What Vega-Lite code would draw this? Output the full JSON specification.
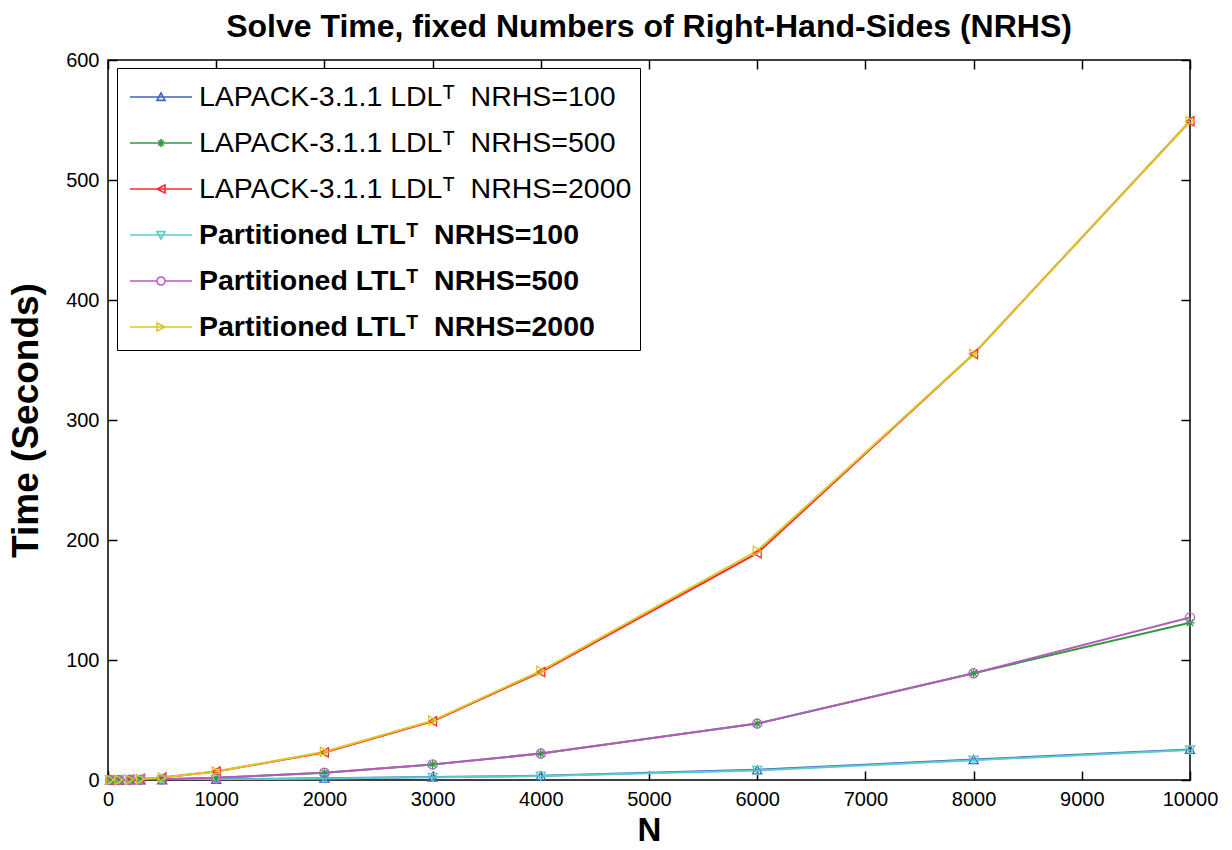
{
  "$schema": "https://vega.github.io/schema/vega-lite/v6.json",
  "autosize": "none",
  "width": 1082,
  "height": 720,
  "padding": {"left": 108, "top": 60, "right": 42, "bottom": 70},
  "background": "white",
  "title": {
    "text": "Solve Time, fixed Numbers of Right-Hand-Sides (NRHS)",
    "font": "Liberation Sans",
    "fontSize": 32,
    "fontWeight": "bold",
    "color": "black",
    "anchor": "middle",
    "offset": 6
  },
  "config": {
    "view": {"stroke": "black", "strokeWidth": 1.5},
    "axis": {
      "grid": false,
      "domain": false,
      "tickColor": "black",
      "tickWidth": 1.5,
      "labelFont": "Liberation Sans",
      "labelFontSize": 20,
      "labelColor": "black",
      "titleFont": "Liberation Sans",
      "titleFontSize": 34,
      "titleFontWeight": "bold",
      "titleColor": "black"
    }
  },
  "datasets": {
    "times": [
      {"N": 20, "series": "LAPACK-3.1.1 LDLᵀ\u00a0\u00a0NRHS=100", "time": 0},
      {"N": 100, "series": "LAPACK-3.1.1 LDLᵀ\u00a0\u00a0NRHS=100", "time": 0.01},
      {"N": 200, "series": "LAPACK-3.1.1 LDLᵀ\u00a0\u00a0NRHS=100", "time": 0.03},
      {"N": 300, "series": "LAPACK-3.1.1 LDLᵀ\u00a0\u00a0NRHS=100", "time": 0.06},
      {"N": 500, "series": "LAPACK-3.1.1 LDLᵀ\u00a0\u00a0NRHS=100", "time": 0.15},
      {"N": 1000, "series": "LAPACK-3.1.1 LDLᵀ\u00a0\u00a0NRHS=100", "time": 0.5},
      {"N": 2000, "series": "LAPACK-3.1.1 LDLᵀ\u00a0\u00a0NRHS=100", "time": 1.5},
      {"N": 3000, "series": "LAPACK-3.1.1 LDLᵀ\u00a0\u00a0NRHS=100", "time": 2.5},
      {"N": 4000, "series": "LAPACK-3.1.1 LDLᵀ\u00a0\u00a0NRHS=100", "time": 3.5},
      {"N": 6000, "series": "LAPACK-3.1.1 LDLᵀ\u00a0\u00a0NRHS=100", "time": 8.5},
      {"N": 8000, "series": "LAPACK-3.1.1 LDLᵀ\u00a0\u00a0NRHS=100", "time": 17},
      {"N": 10000, "series": "LAPACK-3.1.1 LDLᵀ\u00a0\u00a0NRHS=100", "time": 25.5},

      {"N": 20, "series": "LAPACK-3.1.1 LDLᵀ\u00a0\u00a0NRHS=500", "time": 0},
      {"N": 100, "series": "LAPACK-3.1.1 LDLᵀ\u00a0\u00a0NRHS=500", "time": 0.03},
      {"N": 200, "series": "LAPACK-3.1.1 LDLᵀ\u00a0\u00a0NRHS=500", "time": 0.1},
      {"N": 300, "series": "LAPACK-3.1.1 LDLᵀ\u00a0\u00a0NRHS=500", "time": 0.25},
      {"N": 500, "series": "LAPACK-3.1.1 LDLᵀ\u00a0\u00a0NRHS=500", "time": 0.6},
      {"N": 1000, "series": "LAPACK-3.1.1 LDLᵀ\u00a0\u00a0NRHS=500", "time": 1.8},
      {"N": 2000, "series": "LAPACK-3.1.1 LDLᵀ\u00a0\u00a0NRHS=500", "time": 6},
      {"N": 3000, "series": "LAPACK-3.1.1 LDLᵀ\u00a0\u00a0NRHS=500", "time": 13},
      {"N": 4000, "series": "LAPACK-3.1.1 LDLᵀ\u00a0\u00a0NRHS=500", "time": 22},
      {"N": 6000, "series": "LAPACK-3.1.1 LDLᵀ\u00a0\u00a0NRHS=500", "time": 47},
      {"N": 8000, "series": "LAPACK-3.1.1 LDLᵀ\u00a0\u00a0NRHS=500", "time": 89},
      {"N": 10000, "series": "LAPACK-3.1.1 LDLᵀ\u00a0\u00a0NRHS=500", "time": 131},

      {"N": 20, "series": "LAPACK-3.1.1 LDLᵀ\u00a0\u00a0NRHS=2000", "time": 0},
      {"N": 100, "series": "LAPACK-3.1.1 LDLᵀ\u00a0\u00a0NRHS=2000", "time": 0.1},
      {"N": 200, "series": "LAPACK-3.1.1 LDLᵀ\u00a0\u00a0NRHS=2000", "time": 0.4},
      {"N": 300, "series": "LAPACK-3.1.1 LDLᵀ\u00a0\u00a0NRHS=2000", "time": 0.9},
      {"N": 500, "series": "LAPACK-3.1.1 LDLᵀ\u00a0\u00a0NRHS=2000", "time": 2},
      {"N": 1000, "series": "LAPACK-3.1.1 LDLᵀ\u00a0\u00a0NRHS=2000", "time": 7},
      {"N": 2000, "series": "LAPACK-3.1.1 LDLᵀ\u00a0\u00a0NRHS=2000", "time": 23},
      {"N": 3000, "series": "LAPACK-3.1.1 LDLᵀ\u00a0\u00a0NRHS=2000", "time": 49},
      {"N": 4000, "series": "LAPACK-3.1.1 LDLᵀ\u00a0\u00a0NRHS=2000", "time": 90},
      {"N": 6000, "series": "LAPACK-3.1.1 LDLᵀ\u00a0\u00a0NRHS=2000", "time": 189},
      {"N": 8000, "series": "LAPACK-3.1.1 LDLᵀ\u00a0\u00a0NRHS=2000", "time": 355},
      {"N": 10000, "series": "LAPACK-3.1.1 LDLᵀ\u00a0\u00a0NRHS=2000", "time": 549},

      {"N": 20, "series": "Partitioned LTLᵀ\u00a0\u00a0NRHS=100", "time": 0},
      {"N": 100, "series": "Partitioned LTLᵀ\u00a0\u00a0NRHS=100", "time": 0.01},
      {"N": 200, "series": "Partitioned LTLᵀ\u00a0\u00a0NRHS=100", "time": 0.03},
      {"N": 300, "series": "Partitioned LTLᵀ\u00a0\u00a0NRHS=100", "time": 0.06},
      {"N": 500, "series": "Partitioned LTLᵀ\u00a0\u00a0NRHS=100", "time": 0.15},
      {"N": 1000, "series": "Partitioned LTLᵀ\u00a0\u00a0NRHS=100", "time": 0.4},
      {"N": 2000, "series": "Partitioned LTLᵀ\u00a0\u00a0NRHS=100", "time": 1.2},
      {"N": 3000, "series": "Partitioned LTLᵀ\u00a0\u00a0NRHS=100", "time": 2.2},
      {"N": 4000, "series": "Partitioned LTLᵀ\u00a0\u00a0NRHS=100", "time": 3.3},
      {"N": 6000, "series": "Partitioned LTLᵀ\u00a0\u00a0NRHS=100", "time": 8},
      {"N": 8000, "series": "Partitioned LTLᵀ\u00a0\u00a0NRHS=100", "time": 16.5},
      {"N": 10000, "series": "Partitioned LTLᵀ\u00a0\u00a0NRHS=100", "time": 25},

      {"N": 20, "series": "Partitioned LTLᵀ\u00a0\u00a0NRHS=500", "time": 0},
      {"N": 100, "series": "Partitioned LTLᵀ\u00a0\u00a0NRHS=500", "time": 0.03},
      {"N": 200, "series": "Partitioned LTLᵀ\u00a0\u00a0NRHS=500", "time": 0.1},
      {"N": 300, "series": "Partitioned LTLᵀ\u00a0\u00a0NRHS=500", "time": 0.25},
      {"N": 500, "series": "Partitioned LTLᵀ\u00a0\u00a0NRHS=500", "time": 0.6},
      {"N": 1000, "series": "Partitioned LTLᵀ\u00a0\u00a0NRHS=500", "time": 1.8},
      {"N": 2000, "series": "Partitioned LTLᵀ\u00a0\u00a0NRHS=500", "time": 6},
      {"N": 3000, "series": "Partitioned LTLᵀ\u00a0\u00a0NRHS=500", "time": 13},
      {"N": 4000, "series": "Partitioned LTLᵀ\u00a0\u00a0NRHS=500", "time": 22},
      {"N": 6000, "series": "Partitioned LTLᵀ\u00a0\u00a0NRHS=500", "time": 47},
      {"N": 8000, "series": "Partitioned LTLᵀ\u00a0\u00a0NRHS=500", "time": 89},
      {"N": 10000, "series": "Partitioned LTLᵀ\u00a0\u00a0NRHS=500", "time": 135.5},

      {"N": 20, "series": "Partitioned LTLᵀ\u00a0\u00a0NRHS=2000", "time": 0},
      {"N": 100, "series": "Partitioned LTLᵀ\u00a0\u00a0NRHS=2000", "time": 0.1},
      {"N": 200, "series": "Partitioned LTLᵀ\u00a0\u00a0NRHS=2000", "time": 0.4},
      {"N": 300, "series": "Partitioned LTLᵀ\u00a0\u00a0NRHS=2000", "time": 0.9},
      {"N": 500, "series": "Partitioned LTLᵀ\u00a0\u00a0NRHS=2000", "time": 2},
      {"N": 1000, "series": "Partitioned LTLᵀ\u00a0\u00a0NRHS=2000", "time": 7},
      {"N": 2000, "series": "Partitioned LTLᵀ\u00a0\u00a0NRHS=2000", "time": 23.5},
      {"N": 3000, "series": "Partitioned LTLᵀ\u00a0\u00a0NRHS=2000", "time": 49.5},
      {"N": 4000, "series": "Partitioned LTLᵀ\u00a0\u00a0NRHS=2000", "time": 91},
      {"N": 6000, "series": "Partitioned LTLᵀ\u00a0\u00a0NRHS=2000", "time": 191},
      {"N": 8000, "series": "Partitioned LTLᵀ\u00a0\u00a0NRHS=2000", "time": 355},
      {"N": 10000, "series": "Partitioned LTLᵀ\u00a0\u00a0NRHS=2000", "time": 549}
    ]
  },
  "data": {"name": "times"},
  "resolve": {"axis": {"x": "independent", "y": "independent"}},
  "layer": [
    {
      "mark": {"type": "line", "strokeWidth": 2, "clip": true},
      "encoding": {
        "x": {
          "field": "N", "type": "quantitative",
          "scale": {"domain": [0, 10000], "nice": false, "zero": false},
          "axis": {
            "orient": "bottom",
            "values": [0, 1000, 2000, 3000, 4000, 5000, 6000, 7000, 8000, 9000, 10000],
            "format": "d",
            "tickSize": -9,
            "labelPadding": 18,
            "labelFlush": false,
            "labelOverlap": false,
            "title": "N",
            "titleFontSize": 33,
            "titlePadding": 5
          }
        },
        "y": {
          "field": "time", "type": "quantitative",
          "scale": {"domain": [0, 600], "nice": false},
          "axis": {
            "orient": "left",
            "values": [0, 100, 200, 300, 400, 500, 600],
            "tickSize": -9,
            "labelPadding": 18,
            "labelFlush": false,
            "labelOverlap": false,
            "title": "Time (Seconds)",
            "titleFontSize": 37,
            "titlePadding": 20
          }
        },
        "color": {
          "field": "series", "type": "nominal",
          "scale": {
            "domain": [
              "LAPACK-3.1.1 LDLᵀ\u00a0\u00a0NRHS=100",
              "LAPACK-3.1.1 LDLᵀ\u00a0\u00a0NRHS=500",
              "LAPACK-3.1.1 LDLᵀ\u00a0\u00a0NRHS=2000",
              "Partitioned LTLᵀ\u00a0\u00a0NRHS=100",
              "Partitioned LTLᵀ\u00a0\u00a0NRHS=500",
              "Partitioned LTLᵀ\u00a0\u00a0NRHS=2000"
            ],
            "range": ["#3f63c4", "#2f9a3f", "#ff2a2a", "#5ccccc", "#b45cbc", "#d8c82a"]
          },
          "legend": {
            "orient": "none",
            "legendX": 9,
            "legendY": 8,
            "title": null,
            "padding": 8,
            "strokeColor": "black",
            "fillColor": "white",
            "symbolSize": 1600,
            "symbolStrokeWidth": 1.6,
            "symbolFillColor": "transparent",
            "labelFont": "Liberation Sans",
            "labelFontSize": 28.5,
            "labelColor": "black",
            "labelOffset": 32,
            "labelLimit": 700,
            "rowPadding": 10,
            "encode": {
              "symbols": {
                "update": {
                  "shape": {
                    "signal": "['M-0.8,0L2.3,0M0.55,0.17L0.75,-0.2L0.95,0.17Z','M-0.8,0L2.3,0M0.55,0L0.95,0M0.75,-0.2L0.75,0.2M0.61,-0.14L0.89,0.14M0.61,0.14L0.89,-0.14','M-0.8,0L2.3,0M0.95,-0.2L0.55,0L0.95,0.2Z','M-0.8,0L2.3,0M0.55,-0.17L0.75,0.2L0.95,-0.17Z','M-0.8,0L0.55,0M0.95,0L2.3,0M0.95,0A0.2,0.2,0,1,1,0.55,0A0.2,0.2,0,1,1,0.95,0','M-0.8,0L2.3,0M0.55,-0.2L0.95,0L0.55,0.2Z'][indexof(['LAPACK-3.1.1 LDLᵀ\u00a0\u00a0NRHS=100','LAPACK-3.1.1 LDLᵀ\u00a0\u00a0NRHS=500','LAPACK-3.1.1 LDLᵀ\u00a0\u00a0NRHS=2000','Partitioned LTLᵀ\u00a0\u00a0NRHS=100','Partitioned LTLᵀ\u00a0\u00a0NRHS=500','Partitioned LTLᵀ\u00a0\u00a0NRHS=2000'], datum.value)]"
                  },
                  "fill": {"value": "transparent"},
                  "stroke": {"scale": "color", "field": "value"},
                  "strokeWidth": {"value": 1.6}
                }
              },
              "labels": {
                "update": {
                  "fontWeight": {"signal": "indexof(datum.value, 'Partitioned') == 0 ? 'bold' : 'normal'"}
                }
              }
            }
          }
        }
      }
    },
    {
      "mark": {"type": "point", "filled": false, "strokeWidth": 1.3, "size": 85, "opacity": 1},
      "encoding": {
        "x": {"field": "N", "type": "quantitative", "axis": null},
        "y": {"field": "time", "type": "quantitative", "axis": null},
        "color": {"field": "series", "type": "nominal", "legend": null},
        "shape": {
          "field": "series", "type": "nominal", "legend": null,
          "scale": {
            "domain": [
              "Partitioned LTLᵀ\u00a0\u00a0NRHS=2000",
              "Partitioned LTLᵀ\u00a0\u00a0NRHS=500",
              "Partitioned LTLᵀ\u00a0\u00a0NRHS=100",
              "LAPACK-3.1.1 LDLᵀ\u00a0\u00a0NRHS=2000",
              "LAPACK-3.1.1 LDLᵀ\u00a0\u00a0NRHS=500",
              "LAPACK-3.1.1 LDLᵀ\u00a0\u00a0NRHS=100"
            ],
            "range": ["triangle-right", "circle", "triangle-down", "triangle-left", "M-1,0L1,0M0,-1L0,1M-0.7,-0.7L0.7,0.7M-0.7,0.7L0.7,-0.7", "triangle-up"]
          }
        }
      }
    },
    {
      "mark": {"type": "point", "opacity": 0},
      "encoding": {
        "x": {
          "field": "N", "type": "quantitative",
          "axis": {"orient": "top", "values": [0, 1000, 2000, 3000, 4000, 5000, 6000, 7000, 8000, 9000, 10000], "labels": false, "tickSize": -9, "title": null}
        },
        "y": {
          "field": "time", "type": "quantitative",
          "axis": {"orient": "right", "values": [0, 100, 200, 300, 400, 500, 600], "labels": false, "tickSize": -9, "title": null}
        }
      }
    }
  ]
}
